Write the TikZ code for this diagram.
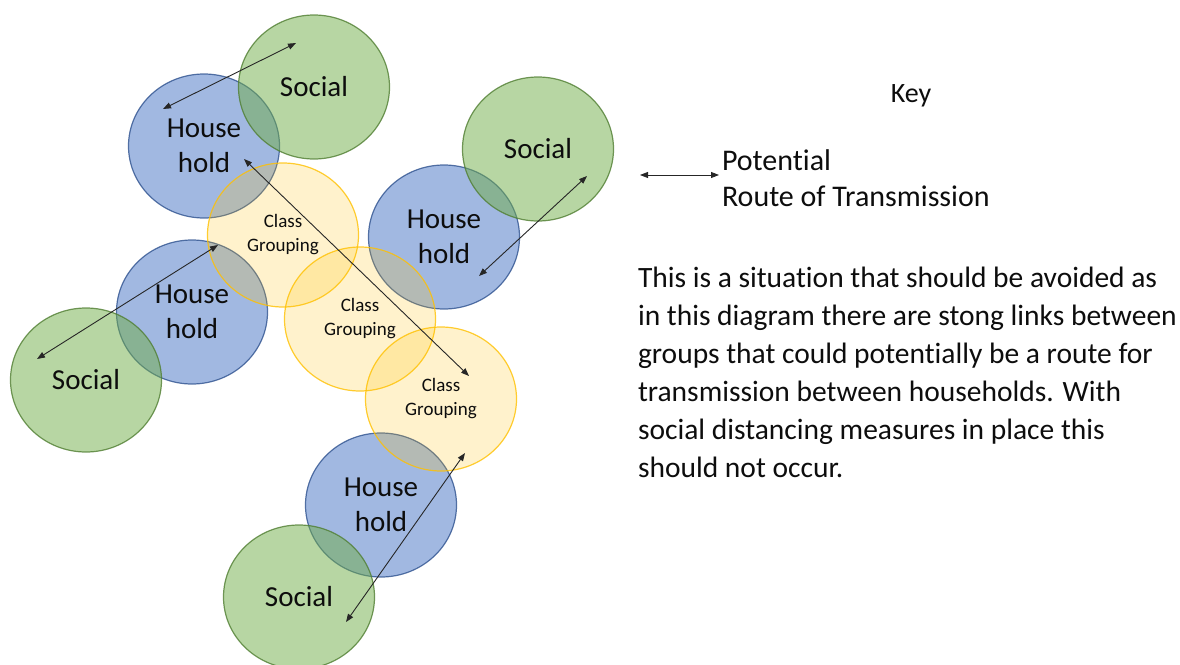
\documentclass[tikz,border=0pt]{standalone}
\usepackage{fontspec}
\setmainfont{Carlito}[RawFeature={-liga;-clig;-dlig;-calt}]
\usetikzlibrary{shapes.geometric,arrows.meta}
\definecolor{grf}{HTML}{70AD47}
\definecolor{grd}{HTML}{507E32}
\definecolor{blf}{HTML}{4472C4}
\definecolor{bld}{HTML}{2F528F}
\definecolor{yef}{HTML}{FFC000}
\definecolor{txt}{HTML}{0D0D0D}
\begin{document}
\begin{tikzpicture}[x=1pt,y=-1pt,
  blob/.style={ellipse, minimum width=151pt, minimum height=144pt, inner sep=0pt, outer sep=0pt, line width=1.2pt, align=center, text opacity=1, text=txt},
  social/.style={blob, fill=grf, fill opacity=0.5, draw=grd, draw opacity=0.8, font=\fontsize{29}{35}\selectfont},
  house/.style={blob, fill=blf, fill opacity=0.5, draw=bld, draw opacity=0.8, font=\fontsize{29}{35}\selectfont},
  classg/.style={blob, fill=yef, fill opacity=0.2, draw=yef, draw opacity=0.8, font=\fontsize{19}{24}\selectfont},
  route/.style={{Triangle[length=8pt,width=6pt]}-{Triangle[length=8pt,width=6pt]}, line width=0.9pt, draw=black!85},
  plain/.style={inner sep=0pt, outer sep=0pt, text=txt}
]
\useasboundingbox (0,0) rectangle (1180,664);
% households
\node[house] (h1) at (204,146) {House\\hold};
\node[house] (h2) at (444,237) {House\\hold};
\node[house] (h3) at (192,312) {House\\hold};
\node[house] (h4) at (381,505) {House\\hold};
% social
\node[social] (s1) at (314,87) {Social};
\node[social] (s2) at (538,149) {Social};
\node[social] (s3) at (86,380) {Social};
\node[social] (s4) at (299,597) {Social};
% class groupings
\node[classg] (c1) at (283,235) {Class\\Grouping};
\node[classg] (c2) at (360,319) {Class\\Grouping};
\node[classg] (c3) at (441,399) {Class\\Grouping};
% arrow end points
\coordinate (t1a) at (163,109);
\coordinate (t1b) at (296,43);
\coordinate (t2a) at (244,159);
\coordinate (t2b) at (469,376);
\coordinate (t3a) at (479,276);
\coordinate (t3b) at (587,176);
\coordinate (t4a) at (37,359);
\coordinate (t4b) at (218,245);
\coordinate (t5a) at (346,622);
\coordinate (t5b) at (465,453);
\coordinate (ka) at (640,175);
\coordinate (kb) at (719,175);
\draw[route] (t1a) -- (t1b);
\draw[route] (t2a) -- (t2b);
\draw[route] (t3a) -- (t3b);
\draw[route] (t4a) -- (t4b);
\draw[route] (t5a) -- (t5b);
\draw[route] (ka) -- (kb);
% key
\node[plain, font=\fontsize{28}{34}\selectfont] (key) at (911,96) {Key};
\node[plain, anchor=west, align=left, font=\fontsize{30}{36}\selectfont] (keytxt) at (722,178) {Potential\\Route of Transmission};
\node[plain, anchor=north west, align=left, font=\fontsize{29.5}{38}\selectfont] (para) at (638,267) {This is a situation that should be avoided as\\in this diagram there are stong links between\\groups that could potentially be a route for\\transmission between households. With\\social distancing measures in place this\\should not occur.};
\end{tikzpicture}
\end{document}
